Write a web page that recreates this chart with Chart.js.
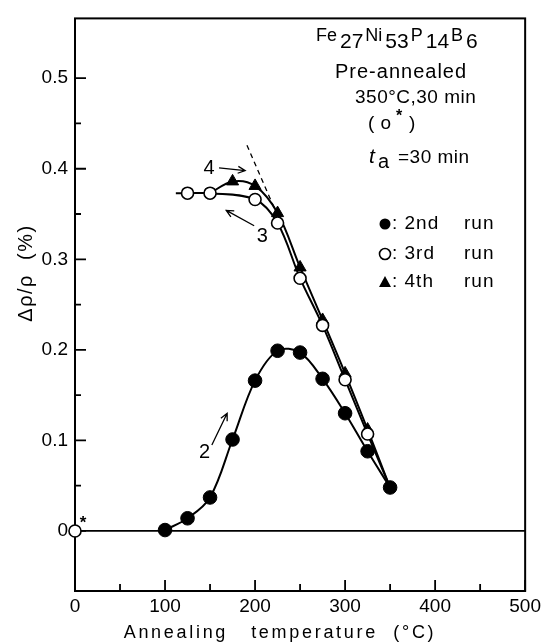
<!DOCTYPE html>
<html>
<head>
<meta charset="utf-8">
<script src="https://cdn.jsdelivr.net/npm/chart.js@4"></script>
<style>
  html, body { margin: 0; padding: 0; background: #fff; }
  #wrap { width: 545px; height: 643px; }
</style>
</head>
<body>
<div id="wrap"><canvas id="resist"></canvas></div>
<script>
// values (temperature in °C, delta rho / rho in %)
const temps2 = [100, 125, 150, 175, 200, 225, 250, 275, 300, 325, 350]
const run2 = [0.001, 0.014, 0.037, 0.101, 0.166, 0.199, 0.197, 0.168, 0.130, 0.088, 0.048]

// 3rd run, first value is the lead-in of the curve, last one ends on the 2nd run point
const temps3 = [112, 125, 150, 200, 225, 250, 275, 300, 325, 350]
const run3 = [0.373, 0.373, 0.373, 0.366, 0.340, 0.279, 0.227, 0.167, 0.107, 0.048]

// 4th run starts from the 3rd run point at 150 and also ends at 350
const temps4 = [150, 175, 200, 225, 250, 275, 300, 325, 350]
const run4 = [0.373, 0.386, 0.381, 0.351, 0.291, 0.233, 0.174, 0.112, 0.048]

// pre-annealed state (o*)
const startTemp = [0]
const startVal = [0]

// zero line and the dashed extrapolation
const zeroTemps = [0, 500]
const zeroVals = [0, 0]
const dashTemps = [191, 222]
const dashVals = [0.426, 0.355]

const xTicks = [0, 100, 200, 300, 400, 500]
const xMinor = [50, 150, 250, 350, 450]
const yTicks = [0, 0.1, 0.2, 0.3, 0.4, 0.5]
const yMinor = [0.05, 0.15, 0.25, 0.35, 0.45]

const FONT = '"Liberation Sans", Arial, sans-serif'

function pts(xs, ys) {
    return xs.map((x, i) => ({ x: x, y: ys[i] }))
}

// hide the marker on the helper end points of a curve
function radii(n, r, skip) {
    let out = []
    for (let i = 0; i < n; i++) out.push(skip.includes(i) ? 0 : r)
    return out
}

function arrow(ctx, x1, y1, x2, y2) {
    const a = Math.atan2(y2 - y1, x2 - x1)
    ctx.beginPath()
    ctx.moveTo(x1, y1)
    ctx.lineTo(x2, y2)
    ctx.moveTo(x2 - 8 * Math.cos(a - 0.45), y2 - 8 * Math.sin(a - 0.45))
    ctx.lineTo(x2, y2)
    ctx.lineTo(x2 - 8 * Math.cos(a + 0.45), y2 - 8 * Math.sin(a + 0.45))
    ctx.stroke()
}

const decor = {
    id: 'decor',
    beforeDatasetsDraw(chart) {
        // frame and inward ticks go under the marks
        const ctx = chart.ctx
        const a = chart.chartArea
        const X = v => chart.scales.x.getPixelForValue(v)
        const Y = v => chart.scales.y.getPixelForValue(v)
        ctx.save()
        ctx.strokeStyle = '#000'
        ctx.lineWidth = 2
        ctx.strokeRect(a.left, a.top, a.right - a.left, a.bottom - a.top)
        ctx.lineWidth = 1.8
        ctx.beginPath()
        yTicks.forEach(v => { ctx.moveTo(a.left, Y(v)); ctx.lineTo(a.left + 11, Y(v)) })
        yMinor.forEach(v => { ctx.moveTo(a.left, Y(v)); ctx.lineTo(a.left + 6, Y(v)) })
        xTicks.forEach(v => { ctx.moveTo(X(v), a.bottom); ctx.lineTo(X(v), a.bottom - 11) })
        xMinor.forEach(v => { ctx.moveTo(X(v), a.bottom); ctx.lineTo(X(v), a.bottom - 7) })
        ctx.stroke()
        ctx.restore()
    },
    afterDraw(chart) {
        const ctx = chart.ctx
        const xs = chart.scales.x
        const ys = chart.scales.y
        const X = v => xs.getPixelForValue(v)
        const Y = v => ys.getPixelForValue(v)
        ctx.save()
        ctx.strokeStyle = '#000'
        ctx.fillStyle = '#000'

        // axis titles
        ctx.textAlign = 'center'
        ctx.textBaseline = 'middle'
        ctx.font = '18px ' + FONT
        ctx.letterSpacing = '2.7px'
        ctx.fillText('Annealing   temperature  (°C)', 280, 633)
        ctx.save()
        ctx.translate(26, 273)
        ctx.rotate(-Math.PI / 2)
        ctx.letterSpacing = '1.5px'
        ctx.font = '20px ' + FONT
        ctx.fillText('Δρ/ρ  (%)', 0, 0)
        ctx.restore()
        ctx.letterSpacing = '0px'

        // curve labels and arrows
        ctx.font = '20px ' + FONT
        ctx.fillText('4', X(149), Y(0.400))
        ctx.fillText('3', X(208), Y(0.325))
        ctx.fillText('2', X(144), Y(0.087))
        ctx.font = 'bold 17px ' + FONT
        ctx.fillText('*', X(9), Y(0.008))
        ctx.lineWidth = 1.3
        arrow(ctx, X(160), Y(0.401), X(189), Y(0.398))
        arrow(ctx, X(199), Y(0.337), X(168), Y(0.354))
        arrow(ctx, X(152), Y(0.095), X(169), Y(0.130))

        // composition block
        ctx.textAlign = 'left'
        ctx.textBaseline = 'alphabetic'
        let x = 316
        const parts = [['Fe', 0], ['27', 1], ['Ni', 0], ['53', 1], ['P', 0], ['14', 1], ['B', 0], ['6', 1]]
        parts.forEach(p => {
            ctx.font = (p[1] ? '21px ' : '18px ') + FONT
            ctx.fillText(p[0], x, p[1] ? 48 : 41)
            x += ctx.measureText(p[0]).width + (p[1] ? 2 : 3)
        })
        ctx.font = '20px ' + FONT
        ctx.letterSpacing = '1px'
        ctx.fillText('Pre-annealed', 335, 78)
        ctx.font = '19px ' + FONT
        ctx.letterSpacing = '0.5px'
        ctx.fillText('350°C,30 min', 355, 103)
        ctx.fillText('( o', 368, 129)
        ctx.fillText(')', 409, 129)
        ctx.font = 'bold 16px ' + FONT
        ctx.fillText('*', 396, 121)
        ctx.font = 'italic 21px ' + FONT
        ctx.fillText('t', 369, 163)
        ctx.font = '20px ' + FONT
        ctx.fillText('a', 378, 168)
        ctx.font = '19px ' + FONT
        ctx.fillText('=30 min', 398, 163)

        // legend
        ctx.font = '19px ' + FONT
        ctx.letterSpacing = '1px'
        const rows = [[224, ': 2nd', 'circle'], [254, ': 3rd', 'open'], [282, ': 4th', 'tri']]
        rows.forEach(r => {
            const cy = r[0]
            ctx.lineWidth = 1.6
            ctx.beginPath()
            if (r[2] === 'tri') {
                ctx.moveTo(385, cy - 6); ctx.lineTo(391, cy + 5); ctx.lineTo(379, cy + 5); ctx.closePath()
                ctx.fill()
            } else {
                ctx.arc(385, cy, 5.5, 0, Math.PI * 2)
                if (r[2] === 'open') ctx.stroke(); else ctx.fill()
            }
            ctx.textBaseline = 'middle'
            ctx.fillText(r[1], 392, cy)
            ctx.fillText('run', 464, cy)
        })
        ctx.restore()
    }
}

const data_r = {
    datasets: [
        {
            label: 'pre-annealed',
            data: pts(startTemp, startVal),
            showLine: false,
            clip: false,
            pointStyle: 'circle',
            pointRadius: 6,
            pointBackgroundColor: '#fff',
            pointBorderColor: '#000',
            pointBorderWidth: 1.6,
        },
        {
            label: '3rd run',
            data: pts(temps3, run3),
            borderColor: '#000',
            borderWidth: 2,
            tension: 0.35,
            pointStyle: 'circle',
            pointRadius: radii(temps3.length, 6, [0, temps3.length - 1]),
            pointBackgroundColor: '#fff',
            pointBorderColor: '#000',
            pointBorderWidth: 1.6,
        },
        {
            label: '4th run',
            data: pts(temps4, run4),
            borderColor: '#000',
            borderWidth: 2,
            tension: 0.35,
            pointStyle: 'triangle',
            pointRadius: radii(temps4.length, 7, [0, temps4.length - 1]),
            pointBackgroundColor: '#000',
            pointBorderColor: '#000',
            pointBorderWidth: 1,
        },
        {
            label: '2nd run',
            data: pts(temps2, run2),
            borderColor: '#000',
            borderWidth: 2,
            tension: 0.35,
            pointStyle: 'circle',
            pointRadius: 6.8,
            pointBackgroundColor: '#000',
            pointBorderColor: '#000',
            pointBorderWidth: 1,
        },
        {
            label: 'extrapolation',
            data: pts(dashTemps, dashVals),
            borderColor: '#000',
            borderWidth: 1.3,
            borderDash: [5, 4],
            pointRadius: 0,
        },
        {
            label: 'zero',
            data: pts(zeroTemps, zeroVals),
            borderColor: '#000',
            borderWidth: 1.8,
            pointRadius: 0,
        },
    ]
}

const config_r = {
    type: 'line',
    data: data_r,
    options: {
        responsive: true,
        maintainAspectRatio: false,
        animation: false,
        layout: { padding: { left: 0, top: 9, right: 18, bottom: 0 } },
        plugins: {
            legend: { display: false },
            tooltip: { enabled: false },
        },
        scales: {
            x: {
                type: 'linear',
                min: 0,
                max: 500,
                afterBuildTicks: s => { s.ticks = xTicks.map(v => ({ value: v })) },
                afterFit: s => { s.height = 52 },
                grid: { display: false, drawTicks: false },
                border: { display: false },
                ticks: {
                    color: '#000',
                    padding: 4,
                    maxRotation: 0,
                    font: { family: FONT, size: 19 },
                },
            },
            y: {
                type: 'linear',
                min: -0.0663,
                max: 0.566,
                afterBuildTicks: s => { s.ticks = yTicks.map(v => ({ value: v })) },
                afterFit: s => { s.width = 75 },
                grid: { display: false, drawTicks: false },
                border: { display: false },
                ticks: {
                    color: '#000',
                    padding: 7,
                    font: { family: FONT, size: 19 },
                    callback: v => v === 0 ? '0' : v.toFixed(1),
                },
            },
        },
    },
    plugins: [decor],
}

const myChart_r = new Chart(document.getElementById('resist'), config_r)
</script>
</body>
</html>
